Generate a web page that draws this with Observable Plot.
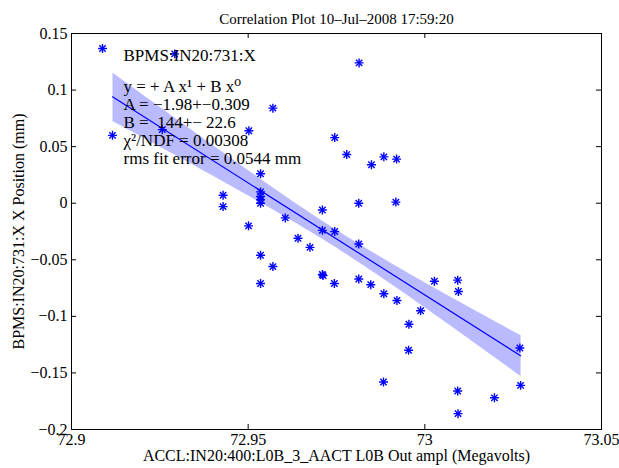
<!DOCTYPE html>
<html><head><meta charset="utf-8">
<script src="https://cdn.jsdelivr.net/npm/d3@7"></script>
<script src="https://cdn.jsdelivr.net/npm/@observablehq/plot@0.6"></script>
<style>
body{margin:0;background:#fff}
svg, svg text{font-family:"Liberation Serif", "DejaVu Serif", serif !important}
svg text{white-space:pre}
</style>
</head><body><div id="chart"></div>
<script>
const title = "Correlation Plot 10–Jul–2008 17:59:20";
const xLabel = "ACCL:IN20:400:L0B_3_AACT L0B Out ampl (Megavolts)";
const yLabel = "BPMS:IN20:731:X X Position (mm)";
const seriesName = "BPMS:IN20:731:X";
const fitLines = ["y = + A x¹ + B x⁰", "A = −1.98+−0.309", "B =  144+− 22.6", "χ²/NDF = 0.00308", "rms fit error = 0.0544 mm"];
const xTicks = [72.9, 72.95, 73, 73.05];
const yTicks = [-0.2, -0.15, -0.1, -0.05, 0, 0.05, 0.1, 0.15];
const xValues = [72.9292, 72.9116, 72.9257, 72.9502, 72.9570, 72.9814, 72.9745, 72.9779, 72.9849, 72.9884,
  72.9920, 72.9535, 72.9535, 72.9535, 72.9535, 72.9535, 72.9429, 72.9429, 72.9501, 72.9535,
  72.9570, 72.9535, 72.9605, 72.9641, 72.9675, 72.9710, 72.9710, 72.9745, 72.9813, 72.9918,
  72.9813, 72.9710, 72.9712, 72.9744, 72.9813, 72.9847, 72.9884, 72.9921, 72.9988, 73.0027,
  73.0093, 73.0095, 72.9955, 72.9954, 73.0269, 73.0271, 73.0093, 73.0197, 73.0094, 72.9883];
const yValues = [0.132, 0.060, 0.065, 0.064, 0.084, 0.124, 0.058, 0.043, 0.034, 0.041,
  0.039, 0.026, 0.010, 0.006, 0.003, 0.000, 0.007, -0.003, -0.020, -0.046,
  -0.056, -0.071, -0.013, -0.031, -0.039, -0.006, -0.024, -0.025, 0.000, 0.001,
  -0.036, -0.063, -0.064, -0.071, -0.067, -0.072, -0.080, -0.086, -0.095, -0.069,
  -0.068, -0.078, -0.107, -0.130, -0.128, -0.161, -0.166, -0.172, -0.186, -0.158];

const points = xValues.map((x, i) => ({x, y: yValues[i]}));
const fmt = d => String(Math.round(d * 100) / 100).replace("-", "−");
const mL = 71, mR = 18, mT = 33, mB = 39, W = 619, H = 468;
const pw = W - mL - mR, ph = H - mT - mB, tk = 5;
const star = {r: 3, stroke: "blue", strokeWidth: 1.4};

const chart = Plot.plot({
  width: W, height: H,
  marginLeft: mL, marginRight: mR, marginTop: mT, marginBottom: mB,
  style: {fontFamily: "Liberation Serif", fontSize: "16px", background: "#fff", color: "#000"},
  x: {domain: [72.9, 73.05], ticks: xTicks},
  y: {domain: [-0.2, 0.15], ticks: yTicks},
  marks: [
    Plot.linearRegressionY(points, {x: "x", y: "y", stroke: "blue", strokeWidth: 1.2, fill: "blue", fillOpacity: 0.27, ci: 0.68}),
    Plot.dot(points, {x: "x", y: "y", symbol: "plus", ...star}),
    Plot.dot(points, {x: "x", y: "y", symbol: "times", ...star}),
    Plot.ruleX(xTicks, {x: d => d, insetTop: ph - tk, stroke: "#000"}),
    Plot.ruleX(xTicks, {x: d => d, insetBottom: ph - tk, stroke: "#000"}),
    Plot.ruleY(yTicks, {y: d => d, insetRight: pw - tk, stroke: "#000"}),
    Plot.ruleY(yTicks, {y: d => d, insetLeft: pw - tk, stroke: "#000"}),
    Plot.frame({stroke: "#000"}),
    Plot.axisX({ticks: xTicks, tickSize: 0, tickPadding: 4, tickFormat: fmt, label: null, fontSize: 16}),
    Plot.axisY({ticks: yTicks, tickSize: 0, tickPadding: 4, tickFormat: fmt, label: null, fontSize: 16}),
    Plot.dot([seriesName], {frameAnchor: "top-left", dx: 31, dy: 15, symbol: "plus", ...star}),
    Plot.dot([seriesName], {frameAnchor: "top-left", dx: 31, dy: 15, symbol: "times", ...star}),
    Plot.text([seriesName], {frameAnchor: "top-left", dx: 52, dy: 15, textAnchor: "start", fontSize: 17, fill: "#000"}),
    Plot.text([fitLines.join("\n")], {frameAnchor: "top-left", dx: 52, dy: 89, textAnchor: "start", lineAnchor: "middle", lineHeight: 1.06, fontSize: 17, fill: "#000"}),
    Plot.text([title], {frameAnchor: "top", dy: -20.5, fontSize: 15, fill: "#000"}),
    Plot.text([xLabel], {frameAnchor: "bottom", dy: 31, fontSize: 16, fill: "#000"}),
    Plot.text([yLabel], {frameAnchor: "left", dx: -53, rotate: -90, textAnchor: "middle", fontSize: 16, fill: "#000"})
  ]
});
document.getElementById("chart").append(chart);
</script>
</body></html>
